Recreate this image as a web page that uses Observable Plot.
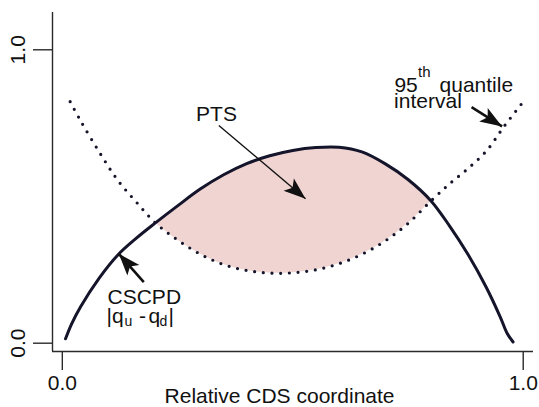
<!DOCTYPE html>
<html><head><meta charset="utf-8">
<script src="https://cdn.jsdelivr.net/npm/d3@7"></script>
<script src="https://cdn.jsdelivr.net/npm/@observablehq/plot@0.6"></script>
<style>body{margin:0;background:#fff}</style>
</head><body><div id="chart"></div>
<script>
// ---- data ----
const xTicks = [0, 1];
const xTickLabels = ["0.0", "1.0"];
const yTicks = [0, 1];
const yTickLabels = ["0.0", "1.0"];
const xTitle = "Relative CDS coordinate";

// CSCPD |qu - qd| (solid curve)
const solidX = [0.007, 0.02, 0.04, 0.08, 0.12, 0.16, 0.202, 0.25, 0.30, 0.35, 0.40, 0.45, 0.50, 0.55, 0.60, 0.65, 0.70, 0.75, 0.80, 0.84, 0.88, 0.92, 0.95, 0.965, 0.978];
const solidY = [0.015, 0.065, 0.125, 0.222, 0.300, 0.357, 0.410, 0.468, 0.526, 0.574, 0.612, 0.639, 0.657, 0.667, 0.668, 0.652, 0.612, 0.558, 0.485, 0.400, 0.303, 0.190, 0.090, 0.034, 0.004];

// 95th quantile interval (dotted curve)
const dottedX = [0.017, 0.04, 0.08, 0.12, 0.16, 0.202, 0.25, 0.30, 0.35, 0.40, 0.45, 0.50, 0.55, 0.60, 0.65, 0.70, 0.75, 0.80, 0.84, 0.88, 0.92, 0.96, 1.0];
const dottedY = [0.823, 0.757, 0.652, 0.556, 0.482, 0.410, 0.352, 0.303, 0.268, 0.248, 0.239, 0.240, 0.250, 0.271, 0.303, 0.348, 0.408, 0.485, 0.543, 0.595, 0.655, 0.742, 0.823];

// PTS shaded region (where solid lies above dotted)
const shadeFrom = 0.202, shadeTo = 0.80;

// annotation labels (data coordinates)
const mainText = ["95", "quantile", "interval", "CSCPD", "|q", "-", "q", "|"];
const mainX    = [0.7206, 0.8184, 0.7199, 0.0981, 0.0959, 0.1664, 0.1870, 0.2304];
const mainY    = [0.8795, 0.8795, 0.8240, 0.1560, 0.0915, 0.0915, 0.0915, 0.0915];
const ptsText = ["PTS"], ptsX = [0.3346], ptsY = [0.7819];
const supText = ["th"], supX = [0.7717], supY = [0.9240];
const subText = ["u", "d"], subX = [0.1350, 0.2109], subY = [0.0740, 0.0740];

// arrows: tail (x1, y1) -> tip (x2, y2)
const thinArrows  = [{x1: 0.3396, y1: 0.7421, x2: 0.5277, y2: 0.4922}];
const thickArrows = [
  {x1: 0.8879, y1: 0.8043, x2: 0.9541, y2: 0.7388},
  {x1: 0.1768, y1: 0.2079, x2: 0.1226, y2: 0.3047}
];

// ---- build tables ----
const solid = solidX.map((x, i) => ({x, y: solidY[i]}));
const dotted = dottedX.map((x, i) => ({x, y: dottedY[i]}));
const shade = solidX
  .map((x, i) => ({x, hi: solidY[i], lo: dottedY[dottedX.indexOf(x)]}))
  .filter(d => d.x >= shadeFrom && d.x <= shadeTo && d.lo !== undefined);
const rows = (t, xs, ys) => t.map((text, i) => ({text, x: xs[i], y: ys[i]}));

const xDomain = [-0.0213, 1.0223];
const yDomain = [-0.0283, 1.1271];
const ink = "#14142a";
const axisInk = "#2a2a2a";
const font = "Liberation Sans, Arial, Helvetica, sans-serif";
const curve = "catmull-rom";

const chart = Plot.plot({
  width: 539, height: 407,
  marginLeft: 52, marginRight: 6, marginTop: 12, marginBottom: 56,
  x: {domain: xDomain},
  y: {domain: yDomain},
  style: {fontFamily: font, background: "#fff", color: "#111"},
  marks: [
    Plot.areaY(shade, {x: "x", y1: "lo", y2: "hi", fill: "#efd4d1", curve}),
    Plot.line(dotted, {x: "x", y: "y", stroke: ink, strokeWidth: 3.2, strokeDasharray: "0 8.7", strokeLinecap: "round", curve}),
    Plot.line(solid, {x: "x", y: "y", stroke: ink, strokeWidth: 3, curve}),
    Plot.link(thinArrows, {x1: "x1", y1: "y1", x2: "x2", y2: "y2", stroke: "#111", strokeWidth: 1.4, markerEnd: "arrow"}),
    Plot.link(thickArrows, {x1: "x1", y1: "y1", x2: "x2", y2: "y2", stroke: "#111", strokeWidth: 2.6, markerEnd: "arrow"}),
    Plot.text(rows(mainText, mainX, mainY), {x: "x", y: "y", text: "text", fontSize: 21, textAnchor: "start", lineAnchor: "middle", fill: "#111"}),
    Plot.text(rows(ptsText, ptsX, ptsY), {x: "x", y: "y", text: "text", fontSize: 21, textAnchor: "middle", lineAnchor: "middle", fill: "#111"}),
    Plot.text(rows(supText, supX, supY), {x: "x", y: "y", text: "text", fontSize: 15, textAnchor: "start", lineAnchor: "middle", fill: "#111"}),
    Plot.text(rows(subText, subX, subY), {x: "x", y: "y", text: "text", fontSize: 14, textAnchor: "start", lineAnchor: "middle", fill: "#111"}),
    // frame (L-shaped)
    Plot.ruleX([xDomain[0]], {stroke: axisInk, strokeWidth: 1.4}),
    Plot.ruleY([yDomain[0]], {stroke: axisInk, strokeWidth: 1.4}),
    // ticks
    Plot.axisX(xTicks, {tickSize: 19, fill: "none", stroke: axisInk, strokeWidth: 1.4}),
    Plot.axisY(yTicks, {tickSize: 19, fill: "none", stroke: axisInk, strokeWidth: 1.4}),
    // tick labels
    Plot.text(xTicks, {x: d => d, text: (d, i) => xTickLabels[i], frameAnchor: "bottom", dy: 32, fontSize: 21, textAnchor: "middle", lineAnchor: "middle", fill: "#111"}),
    Plot.text(yTicks, {y: d => d, text: (d, i) => yTickLabels[i], frameAnchor: "left", dx: -34, rotate: -90, fontSize: 21, textAnchor: "middle", lineAnchor: "middle", fill: "#111"}),
    // axis title
    Plot.text([xTitle], {x: 0.4713, text: d => d, frameAnchor: "bottom", dy: 45, fontSize: 21, textAnchor: "middle", lineAnchor: "middle", fill: "#111"})
  ]
});

// filled arrowheads
chart.querySelectorAll("marker").forEach(m => {
  m.setAttribute("viewBox", "-26 -13 28 26");
  m.setAttribute("markerWidth", 28);
  m.setAttribute("markerHeight", 26);
  m.setAttribute("markerUnits", "userSpaceOnUse");
  m.setAttribute("refX", 0);
  m.setAttribute("refY", 0);
  m.setAttribute("fill", "#111");
  m.setAttribute("stroke", "none");
  const p = m.querySelector("path");
  if (p) {
    p.setAttribute("d", "M0,0L-22,-8L-17,0L-22,8Z");
    p.setAttribute("fill", "#111");
    p.setAttribute("stroke", "none");
  }
});

document.getElementById("chart").appendChild(chart);
</script>
</body></html>
